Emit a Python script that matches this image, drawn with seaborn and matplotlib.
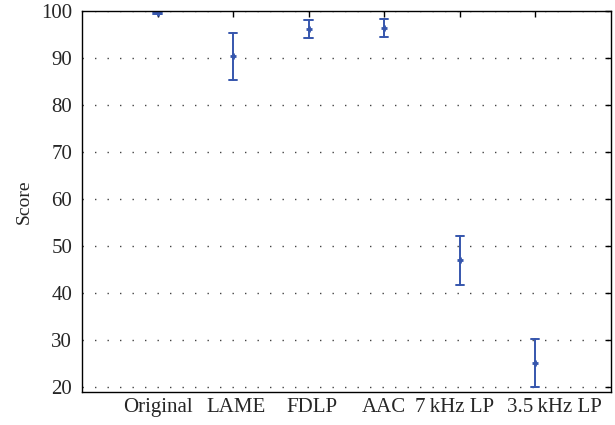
import matplotlib
matplotlib.use("Agg")
import matplotlib.pyplot as plt
import matplotlib.transforms as mtransforms
import seaborn as sns
import pandas as pd

categories = ["Original", "LAME", "FDLP", "AAC", "7\u2009kHz LP", "3.5\u2009kHz LP"]
means = [99.6, 90.4, 96.2, 96.5, 47.0, 25.2]
lows = [99.3, 85.3, 94.3, 94.4, 41.8, 20.1]
highs = [99.9, 95.4, 98.0, 98.4, 52.1, 30.3]

rows = []
for c, lo, m, hi in zip(categories, lows, means, highs):
    for v in (lo, m, hi):
        rows.append({"cond": c, "Score": v})
df = pd.DataFrame(rows)

sns.set_style("white")
plt.rcParams["font.family"] = ["Liberation Serif", "DejaVu Serif"]

fig = plt.figure(figsize=(6.15, 4.25), dpi=100)
ax = fig.add_axes([0.1333, 0.0776, 0.86, 0.8964])

color = "#3656ad"
sns.pointplot(data=df, x="cond", y="Score", order=categories,
              estimator="median", errorbar=("pi", 100),
              linestyle="none", markers="+", markersize=5,
              color=color, capsize=0.11, err_kws={"linewidth": 1.4},
              ax=ax)

ax.set_xlim(-1, 6)
ax.set_ylim(19, 100)
ax.set_yticks(range(20, 101, 10))
ax.set_xlabel("")
ax.set_ylabel("Score", fontsize=14, labelpad=6)
ax.yaxis.grid(True, linestyle=(0, (1, 8)), color="#444444", linewidth=1.0)
ax.xaxis.grid(False)
ax.tick_params(axis="both", direction="in", top=True, right=True,
               length=4, width=1, labelsize=15, color="black", pad=4)
ax.tick_params(axis="y", pad=7)
for s in ax.spines.values():
    s.set_color("black")
    s.set_linewidth(1)

# nudge crowded labels like in the reference
shifts = [0, 3, 3, 0, -5, 19]
for lab, dx in zip(ax.get_xticklabels(), shifts):
    lab.set_transform(lab.get_transform() +
                      mtransforms.ScaledTranslation(dx / 100, 0, fig.dpi_scale_trans))

fig.savefig("out.png", dpi=100)
